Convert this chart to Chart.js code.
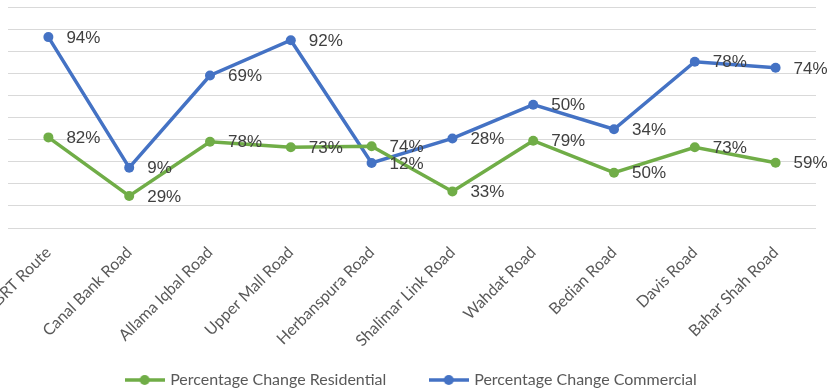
<!DOCTYPE html>
<html>
<head>
<meta charset="utf-8">
<script src="https://cdn.jsdelivr.net/npm/chart.js@4.4.1/dist/chart.umd.min.js"></script>
<style>
    html, body { margin: 0; padding: 0; background: #fff; }
    #wrap { width: 830px; height: 391px; position: relative; }
</style>
</head>
<body>
<div id="wrap"><canvas id="roadChart"></canvas></div>
<script>
// roads along the x axis
const roads = ["BRT Route", "Canal Bank Road", "Allama Iqbal Road", "Upper Mall Road", "Herbanspura Road",
               "Shalimar Link Road", "Wahdat Road", "Bedian Road", "Davis Road", "Bahar Shah Road"];

// percentage change per road
const residential = [82, 29, 78, 73, 74, 33, 79, 50, 73, 59];
const commercial  = [94, 9, 69, 92, 12, 28, 50, 34, 78, 74];

const GREEN = "#70AD47";
const BLUE  = "#4472C4";

/* --------------------------
   LEGEND MARKER (line + dot)
--------------------------- */
function legendMarker(color){
    const c = document.createElement("canvas");
    c.width = 40;
    c.height = 12;
    const g = c.getContext("2d");
    g.strokeStyle = color;
    g.lineWidth = 3.5;
    g.beginPath();
    g.moveTo(0, 6);
    g.lineTo(40, 6);
    g.stroke();
    g.fillStyle = color;
    g.beginPath();
    g.arc(20, 6, 5, 0, Math.PI * 2);
    g.fill();
    return c;
}
const markers = [legendMarker(GREEN), legendMarker(BLUE)];

/* --------------------------
   VALUE LABELS right of points
--------------------------- */
const valueLabels = {
    id: "valueLabels",
    afterDatasetsDraw(chart){
        const ctx = chart.ctx;
        ctx.save();
        ctx.font = "17px 'Liberation Sans', Arial, sans-serif";
        ctx.fillStyle = "#404040";
        ctx.textAlign = "left";
        ctx.textBaseline = "middle";
        chart.data.datasets.forEach(function(ds, i){
            chart.getDatasetMeta(i).data.forEach(function(pt, j){
                ctx.fillText(ds.data[j] + "%", pt.x + 18, pt.y + 1);
            });
        });
        ctx.restore();
    }
};

// the rotated road names run a little into the legend band,
// so let the x axis label clip box reach further down
const longLabels = {
    id: "longLabels",
    afterLayout(chart){
        chart.scales.x.bottom = 352;
    }
};

const tickFont = { family: "Lato", size: 16 };

new Chart(document.getElementById("roadChart"), {
    type: "line",
    data: {
        labels: roads,
        datasets: [{
            label: "Percentage Change Residential",
            data: residential,
            yAxisID: "yRes",
            borderColor: GREEN,
            backgroundColor: GREEN,
            borderWidth: 3.5,
            pointRadius: 5,
            pointBorderWidth: 0,
            tension: 0
        }, {
            label: "Percentage Change Commercial",
            data: commercial,
            yAxisID: "yCom",
            borderColor: BLUE,
            backgroundColor: BLUE,
            borderWidth: 3.5,
            pointRadius: 5,
            pointBorderWidth: 0,
            tension: 0
        }]
    },
    options: {
        responsive: true,
        maintainAspectRatio: false,
        animation: false,
        layout: { padding: { top: 7, left: 8, right: 14, bottom: -7 } },
        plugins: {
            tooltip: { enabled: false },
            legend: {
                position: "bottom",
                labels: {
                    usePointStyle: true,
                    pointStyleWidth: 35,
                    padding: 45,
                    color: "#595959",
                    font: tickFont,
                    generateLabels: function(chart){
                        const items = Chart.defaults.plugins.legend.labels.generateLabels(chart);
                        items.forEach(function(it, i){ it.pointStyle = markers[i]; });
                        return items;
                    }
                }
            }
        },
        scales: {
            x: {
                offset: true,
                grid: { display: false },
                border: { display: false },
                ticks: {
                    autoSkip: false,
                    minRotation: 45,
                    maxRotation: 45,
                    padding: 7,
                    color: "#595959",
                    font: tickFont
                },
                afterFit: function(s){
                    s.height = 99;
                    s.paddingLeft = 0;
                    s.paddingRight = 0;
                }
            },
            // grid only, no labels
            y: {
                min: 0,
                max: 10,
                ticks: { display: false, stepSize: 1 },
                grid: { color: "#D9D9D9", lineWidth: 1, drawTicks: false },
                border: { display: false },
                afterFit: function(s){ s.width = 0; }
            },
            yRes: { display: false, min: 0, max: 200 },
            yCom: { display: false, min: -30.3, max: 113.6 }
        }
    },
    plugins: [valueLabels, longLabels]
});
</script>
</body>
</html>
